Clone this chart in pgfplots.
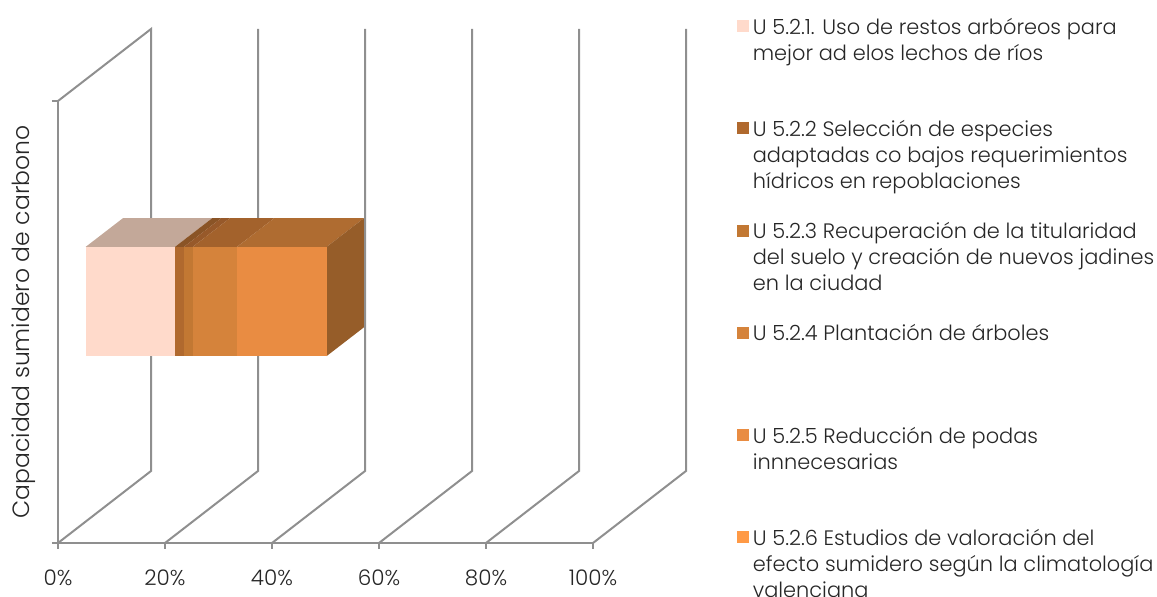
\documentclass[border=0pt]{standalone}
\usepackage{fontspec}
\setmainfont{Poppins}[UprightFont=* Light]
\usepackage{pgfplots}
\pgfplotsset{compat=1.18}
\definecolor{gridc}{HTML}{8F8F8F}
\definecolor{txt}{HTML}{262626}
\newcommand{\ent}[1]{\parbox[t]{410pt}{\fontsize{20.9}{26}\selectfont\color{txt}#1}}
\begin{document}
\begin{tikzpicture}[x=1pt,y=1pt]
\useasboundingbox (0,0) rectangle (1157,597);
\begin{axis}[
    at={(58pt,54pt)},
    anchor=south west,
    scale only axis,
    width=535pt,
    height=442pt,
    xmin=0, xmax=100,
    ymin=0, ymax=1,
    clip=false,
    axis lines=left,
    axis line style={-,gridc,line width=2pt},
    tick style={gridc,line width=1.6pt},
    tick align=outside,
    major tick length=6pt,
    xtick={0,20,...,100},
    xticklabel={\pgfmathprintnumber{\tick}\%},
    /pgf/number format/assume math mode=true,
    ytick={0,1},
    yticklabels={,},
    ticklabel style={font=\fontsize{21.5}{24}\selectfont,text=txt},
    x tick label style={yshift=-17pt},
    ylabel={Capacidad sumidero de carbono},
    ylabel style={font=\fontsize{23.5}{26}\selectfont,text=txt,at={(axis description cs:0,0.5)},anchor=center,yshift=34pt},
    legend style={
        at={(axis cs:126.85,1.193)},
        anchor=north west,
        draw=none,
        fill=none,
        inner sep=0pt,
        row sep=86pt,
        column sep=2pt,
        cells={anchor=base west},
    },
    legend cell align=left,
    legend image code/.code={\fill[#1] (0pt,-13.5pt) rectangle (12pt,-1.5pt);},
]
% depth walls
\addplot[gridc,line width=2pt,forget plot] coordinates {(0,1)(17.4,1.163)(17.4,0.163)(0,0)};
\addplot[gridc,line width=2pt,forget plot] coordinates {(37.4,1.163)(37.4,0.163)(20,0)};
\addplot[gridc,line width=2pt,forget plot] coordinates {(57.4,1.163)(57.4,0.163)(40,0)};
\addplot[gridc,line width=2pt,forget plot] coordinates {(77.4,1.163)(77.4,0.163)(60,0)};
\addplot[gridc,line width=2pt,forget plot] coordinates {(97.4,1.163)(97.4,0.163)(80,0)};
\addplot[gridc,line width=2pt,forget plot] coordinates {(117.4,1.163)(117.4,0.163)(100,0)};
% top faces
\addplot[fill={rgb,255:red,195;green,168;blue,153},draw=none,forget plot] coordinates {(5.18,0.670)(12.15,0.735)(28.84,0.735)(21.87,0.670)} --cycle;
\addplot[fill={rgb,255:red,138;green,84;blue,38},draw=none,forget plot] coordinates {(21.87,0.670)(28.84,0.735)(30.52,0.735)(23.55,0.670)} --cycle;
\addplot[fill={rgb,255:red,151;green,89;blue,42},draw=none,forget plot] coordinates {(23.55,0.670)(30.52,0.735)(32.15,0.735)(25.18,0.670)} --cycle;
\addplot[fill={rgb,255:red,163;green,98;blue,44},draw=none,forget plot] coordinates {(25.18,0.670)(32.15,0.735)(40.43,0.735)(33.46,0.670)} --cycle;
\addplot[fill={rgb,255:red,175;green,108;blue,49},draw=none,forget plot] coordinates {(33.46,0.670)(40.43,0.735)(57.19,0.735)(50.22,0.670)} --cycle;
% right side
\addplot[fill={rgb,255:red,150;green,93;blue,41},draw=none,forget plot] coordinates {(50.22,0.423)(50.22,0.670)(57.19,0.735)(57.19,0.488)} --cycle;
% front faces, one per series
\addplot[fill={rgb,255:red,255;green,218;blue,203},draw=none] coordinates {(5.18,0.423)(5.18,0.670)(21.87,0.670)(21.87,0.423)} --cycle;
\addlegendentry{\ent{U 5.2.1. Uso de restos arbóreos para\\mejor ad elos lechos de ríos}}
\addplot[fill={rgb,255:red,176;green,105;blue,46},draw=none] coordinates {(21.87,0.423)(21.87,0.670)(23.55,0.670)(23.55,0.423)} --cycle;
\addlegendentry{\ent{U 5.2.2 Selección de especies\\adaptadas co bajos requerimientos\\hídricos en repoblaciones}}
\addplot[fill={rgb,255:red,194;green,120;blue,51},draw=none] coordinates {(23.55,0.423)(23.55,0.670)(25.18,0.670)(25.18,0.423)} --cycle;
\addlegendentry{\ent{U 5.2.3 Recuperación de la titularidad\\del suelo y creación de nuevos jadines\\en la ciudad}}
\addplot[fill={rgb,255:red,213;green,131;blue,59},draw=none] coordinates {(25.18,0.423)(25.18,0.670)(33.46,0.670)(33.46,0.423)} --cycle;
\addlegendentry{\ent{U 5.2.4 Plantación de árboles}}
\addplot[fill={rgb,255:red,233;green,140;blue,66},draw=none] coordinates {(33.46,0.423)(33.46,0.670)(50.22,0.670)(50.22,0.423)} --cycle;
\addlegendentry{\ent{U 5.2.5 Reducción de podas\\innnecesarias}}
\addplot[fill={rgb,255:red,255;green,154;blue,70},draw=none] coordinates {(50.22,0.423)(50.22,0.670)(50.22,0.670)(50.22,0.423)} --cycle;
\addlegendentry{\ent{U 5.2.6 Estudios de valoración del\\efecto sumidero según la climatología\\valenciana}}
\end{axis}
\end{tikzpicture}
\end{document}
